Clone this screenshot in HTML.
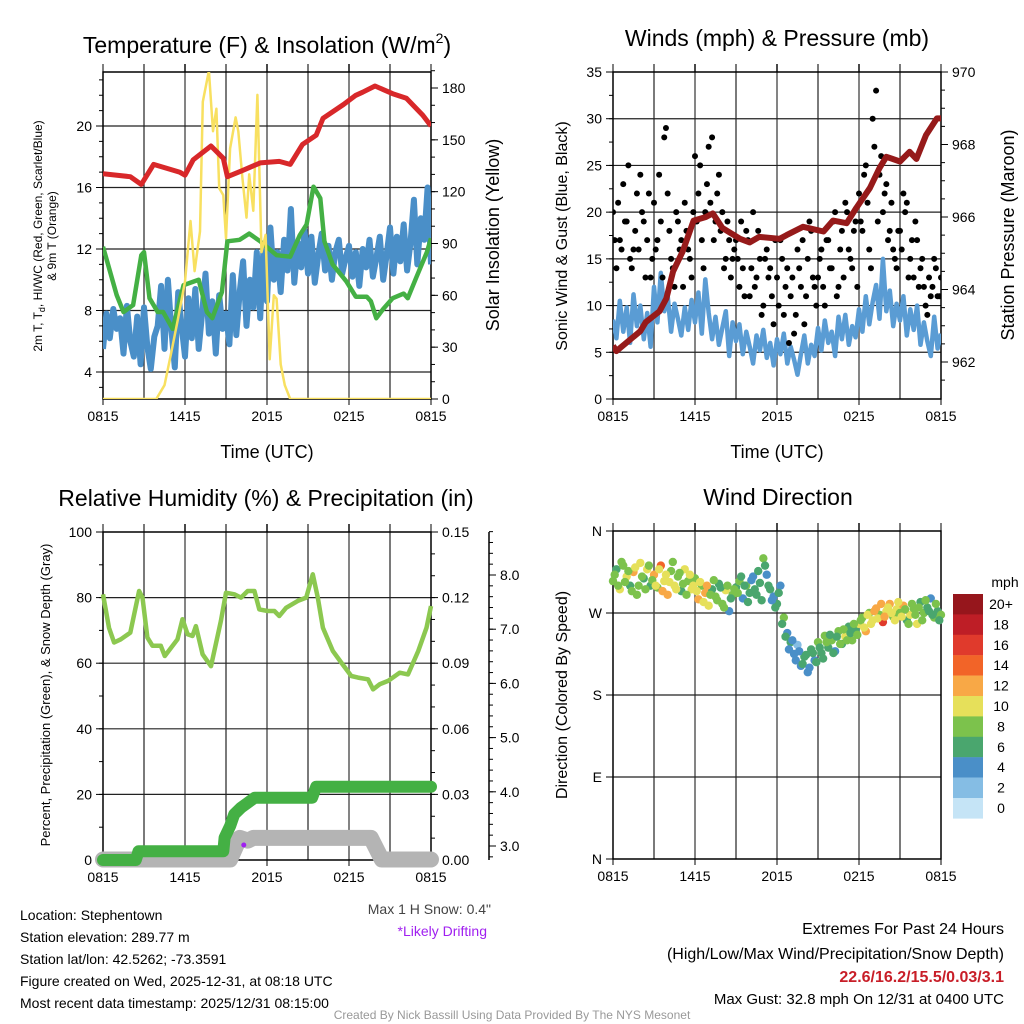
<!DOCTYPE html>
<html><head><meta charset="utf-8"><style>
body{margin:0;background:#fff}
svg{display:block;font-family:"Liberation Sans",Arial,sans-serif}
</style></head><body>
<svg id="c" width="1024" height="1024" viewBox="0 0 1024 1024">
<rect width="1024" height="1024" fill="#fff"/>
<text x="267" y="53" font-size="23" text-anchor="middle">Temperature (F) &amp; Insolation (W/m<tspan font-size="14" dy="-10">2</tspan><tspan dy="10">)</tspan></text>
<text x="777" y="46" font-size="23" text-anchor="middle">Winds (mph) &amp; Pressure (mb)</text>
<text x="266" y="506" font-size="23" text-anchor="middle">Relative Humidity (%) &amp; Precipitation (in)</text>
<text x="778" y="505" font-size="23" text-anchor="middle">Wind Direction</text>

<text font-size="12" transform="translate(42,236) rotate(-90)" text-anchor="middle">2m T, T<tspan font-size="9" dy="3">d</tspan><tspan dy="-3">, HI/WC (Red, Green, Scarlet/Blue)</tspan></text>
<text font-size="12" transform="translate(56,236) rotate(-90)" text-anchor="middle">&amp; 9m T (Orange)</text>
<text font-size="18" transform="translate(499,235) rotate(-90)" text-anchor="middle">Solar Insolation (Yellow)</text>
<text font-size="16" transform="translate(567,236) rotate(-90)" text-anchor="middle">Sonic Wind &amp; Gust (Blue, Black)</text>
<text font-size="18" transform="translate(1014,235) rotate(-90)" text-anchor="middle">Station Pressure (Maroon)</text>
<text font-size="13" transform="translate(50,695) rotate(-90)" text-anchor="middle">Percent, Precipitation (Green), &amp; Snow Depth (Gray)</text>
<text font-size="16" transform="translate(567,695) rotate(-90)" text-anchor="middle">Direction (Colored By Speed)</text>
<text x="267" y="458" font-size="18" text-anchor="middle">Time (UTC)</text>
<text x="777" y="458" font-size="18" text-anchor="middle">Time (UTC)</text>

<g font-size="14">
<text x="20" y="920">Location: Stephentown</text>
<text x="20" y="942">Station elevation: 289.77 m</text>
<text x="20" y="964">Station lat/lon: 42.5262; -73.3591</text>
<text x="20" y="986">Figure created on Wed, 2025-12-31, at 08:18 UTC</text>
<text x="20" y="1008">Most recent data timestamp: 2025/12/31 08:15:00</text>
<text x="491" y="914" text-anchor="end" fill="#444">Max 1 H Snow: 0.4"</text>
<text x="487" y="936" text-anchor="end" fill="#a020f0">*Likely Drifting</text>
<text x="1004" y="934" text-anchor="end" font-size="16">Extremes For Past 24 Hours</text>
<text x="1004" y="959" text-anchor="end" font-size="16">(High/Low/Max Wind/Precipitation/Snow Depth)</text>
<text x="1004" y="982" text-anchor="end" font-size="16" font-weight="bold" fill="#c81e28">22.6/16.2/15.5/0.03/3.1</text>
<text x="1004" y="1004" text-anchor="end" font-size="15">Max Gust: 32.8 mph On 12/31 at 0400 UTC</text>
<text x="512" y="1019" text-anchor="middle" font-size="12" fill="#999">Created By Nick Bassill Using Data Provided By The NYS Mesonet</text>
</g>
<g id="layer"></g>
</svg>
<script>
const xTicks=["0815","1415","2015","0215","0815"];
const tempRedH=[0,2,2.8,3.7,5.6,6,6.6,7.9,8.8,9.1,10.2,11.5,12.9,13.7,14.6,15.6,16.1,17.6,18.5,19,19.9,21.2,22.2,23.4,24];
const tempRed=[16.9,16.7,16.2,17.5,17.0,16.8,17.8,18.7,17.9,16.7,17.1,17.6,17.7,17.5,18.8,19.4,20.5,21.4,22.0,22.2,22.6,22.1,21.8,20.7,20.0];
const tempGreenH=[0,1,1.5,2.2,2.8,3,3.4,4,4.4,5.1,5.9,7,7.6,8,8.7,9.1,10,10.7,11.5,12.7,13.7,14.4,14.9,15.4,15.9,16.2,16.8,17.8,18.5,19.3,19.6,20,20.5,21.2,22,22.3,22.9,23.7,24];
const tempGreen=[12.15,9.0,7.9,8.35,11.6,11.8,8.8,7.9,7.9,6.8,9.65,10.0,7.9,7.5,9.2,12.5,12.6,13.0,12.5,11.6,11.5,12.9,13.6,16.05,15.3,12.5,11.0,9.9,8.9,8.9,8.6,7.5,8.1,8.8,9.1,8.8,10.1,11.8,12.7];
const tempBlue=[5.5,7.8,6.2,8.1,6.8,7.5,5.2,8.3,6.0,5.0,7.6,4.5,8.2,5.6,4.2,6.3,7.0,9.6,5.5,10.0,6.8,4.3,9.2,7.0,
5.0,8.8,6.2,9.4,5.5,7.8,10.4,6.5,8.6,5.2,9.0,6.8,
7.8,5.8,10.3,6.4,9.2,11.2,7.0,10.0,8.2,11.8,7.5,12.3,
8.6,13.4,10.0,11.8,9.2,12.6,10.6,14.6,9.8,12.4,10.8,13.2,
10.4,12.8,9.8,11.6,13.0,10.6,12.2,10.0,11.8,12.6,10.4,11.4,
12.2,10.2,11.8,9.6,12.0,10.8,12.6,10.2,11.4,12.8,10.0,11.6,
13.4,10.4,12.8,11.2,13.6,10.6,12.4,15.2,11.0,14.0,12.6,16.0,11.0];
const solarH=[0,3.9,4.5,5,5.5,6,6.4,6.7,7.1,7.3,7.5,7.75,8.05,8.3,8.5,8.8,9.0,9.3,9.7,9.9,10.2,10.5,10.7,11.0,11.3,11.6,11.9,12.2,12.5,12.7,13.0,13.3,13.7,24];
const solar=[0,0,8,27,47,68,103,74,97,172,180,190,155,168,122,118,93,145,163,155,128,105,130,109,176,85,95,23,60,58,20,8,0,0];
const presH=[0,0.25,2,2.4,3.4,3.9,4.4,5.1,5.9,6.8,7.3,8,9.3,10,10.7,12.2,12.7,13.9,15.4,16.1,17.1,17.8,18.8,19.5,20,21,21.7,22.2,22.9,23.7,24];
const pressure=[962.45,962.3,962.85,963.1,963.4,963.75,964.5,965.05,965.9,966.0,966.1,965.7,965.4,965.3,965.45,965.4,965.5,965.73,965.6,965.9,965.83,966.25,966.8,967.35,967.66,967.53,967.8,967.6,968.26,968.72,968.72];
const windSpeed=[8.5,6.5,10.5,7.2,9.8,6.0,11.2,7.8,10.0,6.4,9.2,5.6,
12.0,8.2,13.5,9.4,11.0,7.2,10.2,8.6,6.8,9.8,7.4,10.6,
8.2,11.4,7.0,12.8,9.2,6.4,8.8,5.8,7.6,9.4,4.6,8.2,
6.2,8.0,4.8,7.2,5.6,3.8,6.8,5.2,7.4,4.4,6.0,3.6,
6.4,4.8,7.0,3.8,5.6,4.2,2.6,4.8,6.8,3.8,5.8,4.6,
7.6,5.2,8.4,6.0,7.2,4.6,8.8,6.4,9.0,5.8,7.8,6.6,
9.6,7.2,11.0,8.0,10.4,12.2,8.6,15.0,9.4,11.6,7.8,10.2,
8.4,11.0,6.8,9.6,7.4,10.0,5.8,8.2,6.2,4.6,8.8,5.4,7.0];
const gust=[20,14,17,23,19,15,16,22,24,19,17,13,21,17,19,28,22,15,12,19,17,21,16,13,26,22,17,20,27,28,19,24,20,15,17,15,17,12,14,18,11,20,13,15,10,16,14,8,13,17,9,14,11,7,16,12,8,15,18,12,13,16,10,17,14,20,12,18,21,16,14,19,22,18,25,16,30,33,24,20,23,18,16,14,18,22,21,15,13,17,14,12,9,11,15,11,13];
const gust2=[17,21,16,19,25,14,18,16,20,13,22,15,16,24,13,29,18,14,20,16,12,18,15,20,19,25,14,23,21,17,22,18,14,19,13,16,15,19,11,17,14,12,18,9,15,13,11,17,10,15,12,6,13,9,14,17,11,19,13,10,15,12,17,14,19,11,16,13,20,15,18,12,19,24,21,14,27,19,26,22,17,21,15,18,16,20,13,17,19,12,15,10,13,12,14,11];
const rhH=[0,0.44,0.81,1.3,2.0,2.64,2.89,3.25,3.62,4.23,4.52,5.45,5.82,6.19,6.55,6.8,7.29,7.9,8.63,9.0,9.61,10.1,10.59,11.08,11.44,12.05,12.54,12.9,13.4,14.25,14.87,15.35,15.72,16.09,16.82,17.43,18.17,18.66,19.39,19.76,20.25,20.86,21.71,22.32,23.06,23.67,24];
const rh=[81,70.8,66.3,67.3,69.3,82,80,67.8,65.3,65.3,62.2,67.3,73.4,68.8,68.3,71.3,62.7,59.1,72.9,81.5,81,80,82,82,76.4,75.9,75.9,74.4,76.9,79,80,87.1,80,70.8,63.7,60.2,56.1,55.6,55.1,52,53.6,54.6,57.1,56.6,63.7,70.8,77.4];
const precipH=[0,2.4,2.6,8.8,8.9,9.3,9.6,10.1,10.6,11.1,15.3,15.6,24];
const precip=[0,0,0.004,0.004,0.0102,0.0155,0.0209,0.0239,0.0262,0.0285,0.0285,0.0335,0.0335];
const snowH=[0,9.3,10.0,10.6,11.0,19.6,20.4,24];
const snow=[2.75,2.75,3.15,3.1,3.15,3.15,2.75,2.75];
const windDir=[305,318,296,322,310,300,315,290,325,308,318,300,312,298,322,305,290,316,300,310,294,318,305,296,308,285,300,292,278,296,288,302,280,295,272,290,298,305,286,300,292,310,290,303,330,312,296,288,280,300,265,248,238,225,235,212,222,205,230,218,238,226,245,232,240,228,250,236,244,255,240,252,258,265,250,270,262,275,268,260,272,280,266,274,270,278,262,268,275,258,282,270,276,286,265,272,268];
const windDir2=[312,300,326,304,316,294,320,300,310,296,322,306,300,318,294,312,304,326,296,314,302,290,312,300,294,304,282,300,290,306,284,298,276,300,286,296,292,310,300,282,306,296,316,284,322,300,284,276,292,258,244,230,240,218,228,214,224,210,226,216,232,220,238,246,226,244,236,252,240,248,258,246,262,254,268,258,272,264,280,266,276,270,262,282,266,274,258,280,268,276,262,284,272,268,280,262];
const speedLabels=["20+","18","16","14","12","10","8","6","4","2","0"];
const speedColors=["#96161c","#be1e26","#e03a2c","#f26428","#f8a846","#e6e05a","#7cc24c","#4aa66e","#4a8fc8","#85bde4","#c5e4f6"];

const NS="http://www.w3.org/2000/svg";
const layer=document.getElementById('layer');
function mk(tag,attrs,parent){const e=document.createElementNS(NS,tag);for(const k in attrs)e.setAttribute(k,attrs[k]);(parent||layer).appendChild(e);return e;}
function lin(d0,d1,r0,r1){return v=>r0+(v-d0)*(r1-r0)/(d1-d0);}
function path(xs,ys,fx,fy){return xs.map((x,i)=>(i?'L':'M')+fx(x).toFixed(1)+','+fy(ys[i]).toFixed(1)).join('');}
function txt(x,y,s,size,anchor,parent){const t=mk('text',{x:x,y:y,'font-size':size,'text-anchor':anchor||'middle'},parent);t.textContent=s;return t;}

function frame(x0,x1,y0,y1,hLines,name){
  const g=mk('g',{});
  
  
  const fx=lin(0,24,x0,x1);
  for(let h=3;h<24;h+=3){const X=fx(h);mk('line',{x1:X,x2:X,y1:y0-8,y2:y1,stroke:(h%6==0)?'#777':'#222','stroke-width':(h%6==0)?1.8:1.2},g);}
  hLines.forEach(Y=>mk('line',{x1:x0,x2:x1,y1:Y,y2:Y,stroke:'#222','stroke-width':1.2},g));
  mk('rect',{x:x0,y:y0,width:x1-x0,height:y1-y0,fill:'none',stroke:'#000','stroke-width':1.5},g);
  xTicks.forEach((s,i)=>{const X=fx(i*6);mk('line',{x1:X,x2:X,y1:y1,y2:y1+6,stroke:'#000'},g);mk('line',{x1:X,x2:X,y1:y0,y2:y0-8,stroke:'#000'},g);const t=txt(X,y1+22,s,14,'middle',g);
    
    });
  return {g,fx};
}
function yAxis(g,X,dir,vals,fy,fmt,minor){
  vals.forEach(v=>{const Y=fy(v);mk('line',{x1:X,x2:X+dir*7,y1:Y,y2:Y,stroke:'#000'},g);const t=txt(X+dir*11,Y+5,fmt(v),14,dir<0?'end':'start',g);
    
    });
  (minor||[]).forEach(v=>{const Y=fy(v);mk('line',{x1:X,x2:X+dir*4,y1:Y,y2:Y,stroke:'#000'},g);});
}
function range(a,b,s){const r=[];for(let v=a;v<=b+1e-9;v+=s)r.push(+v.toFixed(4));return r;}

// ---- Panel 1: temperature ----
{
 const fyT=lin(20,4,126,372), fyS=lin(0,180,399,88);
 const p=frame(103,431,72,399,[4,8,12,16,20].map(fyT),'temperature-panel');
 const fx=p.fx;
 yAxis(p.g,103,-1,[4,8,12,16,20],fyT,v=>v,range(3,23,1));
 yAxis(p.g,431,1,[0,30,60,90,120,150,180],fyS,v=>v,range(10,190,10));
 const clip=mk('clipPath',{id:'cp1'});mk('rect',{x:103,y:72,width:328,height:327},clip);
 const s=mk('g',{'clip-path':'url(#cp1)'});
 const tb=mk('path',{d:path(tempBlue.map((v,i)=>i*0.25),tempBlue,fx,fyT),fill:'none',stroke:'#4a8fc8','stroke-width':6,'stroke-linejoin':'round'},s);
 
 
 const tg=mk('path',{d:path(tempGreenH,tempGreen,fx,fyT),fill:'none',stroke:'#44b044','stroke-width':4.5,'stroke-linejoin':'round'},s);
 
 
 const so=mk('path',{d:path(solarH,solar,fx,fyS),fill:'none',stroke:'#f8e060','stroke-width':2.5,'stroke-linejoin':'round'},s);
 
 
 const tr=mk('path',{d:path(tempRedH,tempRed,fx,fyT),fill:'none',stroke:'#d8282a','stroke-width':5,'stroke-linejoin':'round'},s);
 
 
}
// ---- Panel 2: winds ----
{
 const fyW=lin(0,35,399,72), fyP=lin(962,970,362,72);
 const p=frame(613,941,72,399,[5,10,15,20,25,30].map(fyW),'wind-panel');
 const fx=p.fx;
 yAxis(p.g,613,-1,[0,5,10,15,20,25,30,35],fyW,v=>v,range(0,35,2.5));
 yAxis(p.g,941,1,[962,964,966,968,970],fyP,v=>v,range(961.5,970,0.5));
 const clip=mk('clipPath',{id:'cp2'});mk('rect',{x:613,y:72,width:328,height:327},clip);
 const s=mk('g',{'clip-path':'url(#cp2)'});
 const wb=mk('path',{d:path(windSpeed.map((v,i)=>i*0.25),windSpeed,fx,fyW),fill:'none',stroke:'#5a9cd4','stroke-width':4.5,'stroke-linejoin':'round'},s);
 
 
 gust.forEach((v,i)=>{const c=mk('circle',{cx:fx(i*0.25),cy:fyW(v),r:3,fill:'#000'},s);
   
   });
 gust2.forEach((v,i)=>{const c=mk('circle',{cx:fx(i*0.25+0.125),cy:fyW(v),r:3,fill:'#000'},s);
   
   });
 const pr=mk('path',{d:path(presH,pressure,fx,fyP),fill:'none',stroke:'#961a1a','stroke-width':6,'stroke-linejoin':'round'},s);
 
 
}
// ---- Panel 3: RH ----
{
 const fyR=lin(0,100,860,532), fyPr=lin(0,0.15,860,532), fySn=lin(3,8,846,575);
 const p=frame(103,431,532,860,[20,40,60,80].map(fyR),'humidity-panel');
 const fx=p.fx;
 yAxis(p.g,103,-1,[0,20,40,60,80,100],fyR,v=>v,range(0,100,10));
 yAxis(p.g,431,1,[0,0.03,0.06,0.09,0.12,0.15],fyPr,v=>v.toFixed(2),range(0,0.15,0.01));
 mk('line',{x1:489,x2:489,y1:532,y2:860,stroke:'#000','stroke-width':1.5},p.g);
 yAxis(p.g,489,1,[3,4,5,6,7,8],fySn,v=>v.toFixed(1),range(2.8,8.8,0.2));
 const sn=mk('path',{d:path(snowH,snow,fx,fySn),fill:'none',stroke:'#b4b4b4','stroke-width':16,'stroke-linecap':'round','stroke-linejoin':'round'});
 
 
 const pc=mk('path',{d:path(precipH,precip,fx,fyPr),fill:'none',stroke:'#44b044','stroke-width':12,'stroke-linecap':'round','stroke-linejoin':'round'});
 
 
 const dr=mk('circle',{cx:fx(10.3),cy:845,r:2.5,fill:'#a020f0'});
 
 
 const rl=mk('path',{d:path(rhH,rh,fx,fyR),fill:'none',stroke:'#8cc850','stroke-width':4.5,'stroke-linejoin':'round'});
 
 
}
// ---- Panel 4: direction ----
{
 const fyD=lin(0,360,859,531);
 const p=frame(613,941,531,859,[90,180,270].map(fyD),'direction-panel');
 const fx=p.fx;
 yAxis(p.g,613,-1,[0,90,180,270,360],fyD,v=>({0:'N',90:'E',180:'S',270:'W',360:'N'})[v]);
 function col(s){const b=[19,17,15,13,11,9,7,5,3,1];for(let i=0;i<b.length;i++)if(s>=b[i])return speedColors[i];return speedColors[10];}
 windDir.forEach((d,i)=>{const c=mk('circle',{cx:fx(i*0.25),cy:fyD(d),r:4.2,fill:col(windSpeed[i])});
   
   });
 windDir2.forEach((d,i)=>{const sp=(windSpeed[i]+windSpeed[i+1])/2;const c=mk('circle',{cx:fx(i*0.25+0.125),cy:fyD(d),r:4.2,fill:col(sp)});
   
   });
 const lg=mk('g',{});
 
 
 txt(1005,587,'mph',14,'middle',lg);
 speedLabels.forEach((s,i)=>{mk('rect',{x:953,y:594+i*20.4,width:30,height:20.6,fill:speedColors[i]},lg);txt(1001,609+i*20.4,s,14,'middle',lg);});
}
</script>
</body></html>
